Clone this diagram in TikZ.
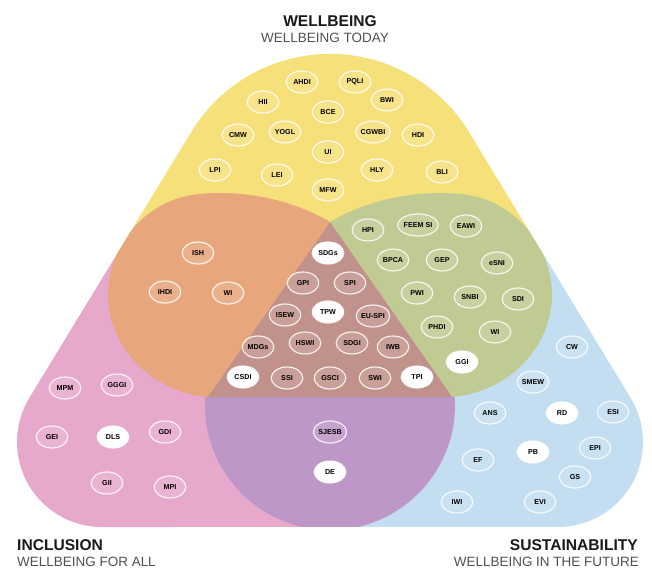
\documentclass[tikz,border=0pt]{standalone}
\usepackage{fontspec}
\setmainfont{Liberation Sans}
\usepackage{tikz}
\usetikzlibrary{shapes, positioning}

\definecolor{wbyellow}{HTML}{F6E07A}
\definecolor{inpink}{HTML}{E6A9CB}
\definecolor{subblue}{HTML}{C3DDF1}
\definecolor{wborange}{HTML}{E8A67C}
\definecolor{wbgreen}{HTML}{BFCB92}
\definecolor{inpurple}{HTML}{BD97C7}
\definecolor{allbrown}{HTML}{C1928B}
\definecolor{subgray}{HTML}{505050}

% outline of the three sets together
\newcommand{\hullpath}{(191.2,132) arc[start angle=148.7, end angle=31.3, radius=4.875cm]
  -- (630.6,397.8) arc[start angle=31.3, end angle=-90, radius=2.55cm]
  -- (102,527) arc[start angle=-90, end angle=-211.3, radius=2.55cm] -- cycle}

\begin{document}
\begin{tikzpicture}[x=0.03cm, y=-0.03cm]
        \tikzstyle{idx}=[ellipse, draw=white, draw opacity=0.85, line width=1pt, fill=white, fill opacity=0.12, text opacity=1, text=black, minimum width=0.95cm, minimum height=0.66cm, inner sep=0pt, font=\fontsize{6.1}{7}\selectfont\bfseries]
        \tikzstyle{key}=[idx, fill opacity=1]
        \tikzstyle{title}=[font=\fontsize{13.3}{14}\selectfont\bfseries, text=black!90, inner sep=0pt]
        \tikzstyle{subtitle}=[font=\fontsize{11.5}{12}\selectfont, text=subgray, inner sep=0pt]
        \useasboundingbox (0,0) rectangle (652,568);
        \coordinate (T) at (330,222);
        \coordinate (L) at (208,397);
        \coordinate (R) at (452,397);

        % regions
        \begin{scope}
        \clip \hullpath;
        \fill[wbyellow] (330,330) -- (0,219) -- (0,0) -- (660,0) -- (660,219) -- cycle;
        \fill[inpink] (330,330) -- (0,219) -- (0,568) -- (330,568) -- cycle;
        \fill[subblue] (330,330) -- (660,219) -- (660,568) -- (330,568) -- cycle;
        \fill[inpurple] (330,405) circle[radius=3.75cm];
        \fill[wborange] (T) .. controls (290,198) and (240,190) .. (200,194)
            .. controls (150,198) and (110,240) .. (108,293)
            .. controls (107,345) and (150,392) .. (L) -- cycle;
        \fill[wbgreen] (T) .. controls (370,198) and (420,190) .. (460,194)
            .. controls (510,198) and (550,240) .. (552,293)
            .. controls (553,345) and (510,392) .. (R) -- cycle;
        \fill[allbrown] (T) -- (L) -- (R) -- cycle;
        \end{scope}

        % titles
        \node[title] (wb) at (330,21) {WELLBEING};
        \node[subtitle] (wbsub) at (325,38) {WELLBEING TODAY};
        \node[title, anchor=west] (inc) at (17,545) {INCLUSION};
        \node[subtitle, anchor=west] (incsub) at (17,562) {WELLBEING FOR ALL};
        \node[title, anchor=east] (sus) at (638,545) {SUSTAINABILITY};
        \node[subtitle, anchor=east] (sussub) at (639,562) {WELLBEING IN THE FUTURE};

        % wellbeing today
        \node[idx] (ahdi) at (302,82) {AHDI};
        \node[idx] (pqli) at (355,82) {PQLI};
        \node[idx] (hii) at (263,102) {HII};
        \node[idx] (bwi) at (387,100) {BWI};
        \node[idx] (bce) at (328,112) {BCE};
        \node[idx] (cmw) at (238,135) {CMW};
        \node[idx] (yogl) at (285,132) {YOGL};
        \node[idx] (cgwbi) at (373,132) {CGWBI};
        \node[idx] (hdi) at (418,135) {HDI};
        \node[idx] (ui) at (328,152) {UI};
        \node[idx] (lpi) at (215,170) {LPI};
        \node[idx] (lei) at (277,175) {LEI};
        \node[idx] (hly) at (377,170) {HLY};
        \node[idx] (bli) at (442,172) {BLI};
        \node[idx] (mfw) at (328,190) {MFW};

        % wellbeing and inclusion
        \node[idx] (ish) at (198,253) {ISH};
        \node[idx] (ihdi) at (165,292) {IHDI};
        \node[idx] (wi1) at (228,293) {WI};

        % wellbeing and sustainability
        \node[idx] (hpi) at (368,230) {HPI};
        \node[idx] (feem) at (418,225) {FEEM SI};
        \node[idx] (eawi) at (466,226) {EAWI};
        \node[idx] (bpca) at (393,260) {BPCA};
        \node[idx] (gep) at (442,260) {GEP};
        \node[idx] (esni) at (497,263) {eSNI};
        \node[idx] (pwi) at (417,293) {PWI};
        \node[idx] (snbi) at (470,297) {SNBI};
        \node[idx] (sdi) at (518,299) {SDI};
        \node[idx] (phdi) at (437,327) {PHDI};
        \node[idx] (wi2) at (495,332) {WI};
        \node[key] (ggi) at (462,362) {GGI};

        % all three
        \node[key] (sdgs) at (328,253) {SDGs};
        \node[idx] (gpi) at (303,283) {GPI};
        \node[idx] (spi) at (350,283) {SPI};
        \node[idx] (isew) at (285,315) {ISEW};
        \node[key] (tpw) at (328,312) {TPW};
        \node[idx] (euspi) at (373,316) {EU-SPI};
        \node[idx] (mdgs) at (258,347) {MDGs};
        \node[idx] (hswi) at (305,343) {HSWI};
        \node[idx] (sdgi) at (352,343) {SDGI};
        \node[idx] (iwb) at (393,347) {IWB};
        \node[key] (csdi) at (243,377) {CSDI};
        \node[idx] (ssi) at (287,378) {SSI};
        \node[idx] (gsci) at (330,378) {GSCI};
        \node[idx] (swi) at (375,378) {SWI};
        \node[key] (tpi) at (417,377) {TPI};

        % wellbeing for all
        \node[idx] (mpm) at (65,388) {MPM};
        \node[idx] (gggi) at (117,385) {GGGI};
        \node[idx] (gei) at (52,437) {GEI};
        \node[key] (dls) at (113,437) {DLS};
        \node[idx] (gdi) at (165,432) {GDI};
        \node[idx] (gii) at (107,483) {GII};
        \node[idx] (mpi) at (170,487) {MPI};

        % inclusion and sustainability
        \node[idx] (sjesb) at (330,432) {SJESB};
        \node[key] (de) at (330,472) {DE};

        % wellbeing in the future
        \node[idx] (cw) at (572,347) {CW};
        \node[idx] (smew) at (533,382) {SMEW};
        \node[idx] (ans) at (490,413) {ANS};
        \node[key] (rd) at (562,413) {RD};
        \node[idx] (esi) at (613,412) {ESI};
        \node[idx] (ef) at (478,460) {EF};
        \node[key] (pb) at (533,452) {PB};
        \node[idx] (epi) at (595,448) {EPI};
        \node[idx] (gs) at (575,477) {GS};
        \node[idx] (iwi) at (457,502) {IWI};
        \node[idx] (evi) at (540,502) {EVI};
\end{tikzpicture}
\end{document}
